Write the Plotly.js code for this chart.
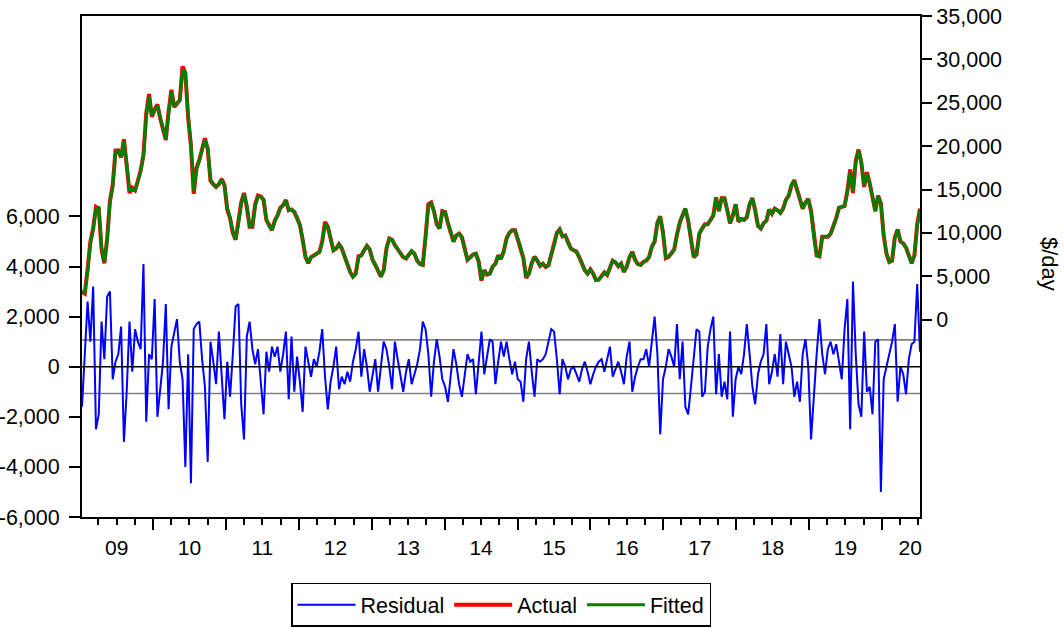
<!DOCTYPE html>
<html><head><meta charset="utf-8">
<script src="https://cdn.plot.ly/plotly-3.0.1.min.js"></script>
<style>html,body{margin:0;padding:0;background:#fff}#chart{width:1064px;height:628px}</style>
</head><body><div id="chart"></div>
<script>
const startDate = '2009-01-09';
const stepDays = 14;

const actual = [
3200,3000,5800,9000,10500,13000,12800,8100,6500,9300,13700,15500,19500,19500,18700,20800,17800,14600,15200,14900,
16000,17200,19000,23800,26000,23400,24200,24800,23200,21800,20700,24000,26500,24500,25000,25300,29200,28400,23300,20000,
14500,17500,18400,19800,20900,19700,16000,15600,15300,15600,16200,15500,12700,11700,10000,9200,11200,13500,14600,13000,
10700,10700,13300,14300,14200,13800,11500,10800,10300,11400,12000,12900,13200,13800,12600,12700,12400,11700,10900,9200,
7230,6500,7200,7400,7650,7800,9000,11270,10700,9300,8000,8200,8700,8200,7300,6300,5500,4950,5300,7300,
7400,8000,8500,8100,6900,6300,5600,4950,5700,8200,9350,9200,8600,8100,7600,7200,7050,7550,7900,7600,
6800,6400,6300,9600,13300,13500,12500,11000,10500,12500,12400,11100,10200,9000,9700,9900,9500,8100,6900,7200,
7500,7600,6700,4500,5700,5200,5300,6100,6450,7400,7000,7900,9400,10000,10300,10300,9300,8400,7100,4800,
5300,6500,7250,6800,6200,6450,6080,6250,7600,8600,10000,10400,9600,9700,8800,8200,8000,7850,7200,6400,
5700,5300,5800,5300,4550,4600,5100,5450,5150,5950,6800,6600,6150,6450,5500,6100,7200,7800,6900,6400,
6300,6650,6800,7200,8400,9000,11200,11900,10000,7100,7230,7650,8100,9800,11200,12040,12800,11400,9000,7200,
7500,9900,10500,11000,11000,11500,12000,14100,12500,14000,14000,12600,11100,12000,13300,11300,11600,11500,11800,13300,
14000,12600,10800,10500,11100,11400,12700,12200,12800,12600,12300,12800,13800,14300,15500,16070,15100,13900,12800,13500,
13900,12500,9400,7400,7300,9540,9540,9540,9900,10700,11700,12900,13000,13100,14800,17300,14600,18300,19600,18100,
15300,17000,15700,13900,12500,14300,13400,9700,7600,6650,6800,9500,10400,9000,8780,8300,7300,6500,7400,11000,
12800
];

const fitted = [
3300,3100,5500,8700,10400,12800,12900,8400,6600,9100,13400,15400,19200,19500,18800,20600,18000,14800,15100,14900,
15900,17100,18800,23300,25700,23600,24100,24700,23300,21900,20800,23700,26200,24600,24900,25300,28800,28500,23600,20300,
14900,17300,18300,19700,20800,19800,16200,15600,15300,15600,16100,15500,12900,11800,10100,9300,11000,13300,14500,13100,
10800,10700,13100,14200,14200,13800,11600,10800,10300,11300,12000,12800,13200,13700,12700,12700,12400,11700,10900,9300,
7300,6500,7200,7400,7650,7800,8900,11100,10700,9300,8000,8200,8700,8200,7300,6300,5500,4950,5300,7200,
7400,8000,8500,8100,6900,6300,5600,4950,5700,8100,9300,9200,8600,8100,7600,7200,7050,7550,7900,7600,
6800,6400,6300,9400,13100,13500,12500,11000,10500,12400,12400,11100,10200,9000,9700,9900,9500,8100,6900,7200,
7500,7600,6700,4600,5700,5200,5300,6100,6450,7400,7000,7900,9300,10000,10300,10300,9300,8400,7100,4900,
5300,6500,7250,6800,6200,6450,6080,6250,7600,8600,10000,10400,9600,9700,8800,8200,8000,7850,7200,6400,
5700,5300,5800,5300,4550,4600,5100,5450,5150,5950,6800,6600,6150,6450,5500,6100,7200,7800,6900,6400,
6300,6650,6800,7200,8400,9000,11100,11900,10000,7200,7230,7650,8100,9800,11200,12040,12800,11400,9000,7200,
7500,9900,10500,11000,11000,11500,12000,14000,12500,14000,14000,12600,11100,12000,13300,11300,11600,11500,11800,13300,
14000,12600,10800,10500,11100,11400,12700,12200,12800,12600,12300,12800,13800,14300,15500,16070,15100,13900,12800,13500,
13900,12500,9500,7400,7300,9540,9540,9540,9900,10700,11700,12900,13000,13100,14700,17100,14800,18100,19500,18200,
15400,16900,15700,13900,12500,14300,13400,9800,7600,6650,6800,9400,10400,9000,8780,8300,7300,6500,7400,10800,
12700
];

const residual = [
-1600,500,2600,1000,3200,-2500,-1900,1800,300,2800,3000,-500,200,500,1600,-3000,-1000,1800,-200,1500,
1000,700,4100,-2200,500,300,2700,-2000,-800,200,2500,-1700,800,1300,1900,200,-500,-4000,500,-4650,
1500,1700,1800,300,-800,-3800,1000,200,-700,1400,-300,-2100,200,-1200,500,2400,2500,-1500,-2900,1200,
1800,700,100,700,-600,-1900,600,-200,800,400,800,-200,500,1400,-1300,1200,-1000,400,-600,-1800,
800,200,-400,300,0,600,1500,-400,-1700,-600,0,800,-900,-400,-700,-200,-600,200,700,1400,
-400,700,0,-1000,-300,300,-1000,0,1000,700,0,-900,1000,300,-300,-1000,-200,300,-700,-300,
100,700,1800,1500,500,-1200,200,1100,400,-500,-800,-1400,-200,700,100,-700,-1200,-300,500,200,
300,-1100,200,1400,-300,400,1100,1000,-700,200,1000,400,1000,300,-300,200,-500,-600,-1400,300,
1000,-200,-1200,300,200,300,500,1000,1500,1400,300,-1100,300,0,-500,-100,0,-300,-600,-100,
200,-200,-700,-300,0,200,300,-200,300,800,-400,-100,200,-200,-700,400,1000,-1000,-400,0,
300,300,700,0,1000,2000,500,-2700,-500,0,700,400,0,1700,-500,1000,-1600,-1900,-800,300,
1500,1400,-1200,-1000,800,1500,2000,-1100,500,-1200,-600,-1300,1400,-2000,-500,0,-300,500,1700,500,
-800,-1500,-300,200,500,1700,-700,-200,500,-400,1300,-700,1000,500,0,-1200,-600,-1400,500,1100,
0,-2900,-1100,500,1900,500,-300,700,1000,500,900,200,-500,1500,2700,-2500,3400,500,-1500,-2000,
1400,-1000,-800,-1900,1000,1100,-5000,-500,0,500,1000,1700,-1400,0,-300,-1100,300,900,1000,3300,
600
];

const residualSE = 1070;

const yearLabels = ['09','10','11','12','13','14','15','16','17','18','19','20'];
const yearLabelDates = ['2009-07-02','2010-07-02','2011-07-02','2012-07-02','2013-07-02','2014-07-02',
                        '2015-07-02','2016-07-02','2017-07-02','2018-07-02','2019-07-02','2020-05-22'];
const yearBoundaryDates = ['2010-01-01','2011-01-01','2012-01-01','2013-01-01','2014-01-01','2015-01-01',
                           '2016-01-01','2017-01-01','2018-01-01','2019-01-01','2020-01-01'];
const leftTicks = [-6000,-4000,-2000,0,2000,4000,6000];
const rightTicks = [0,5000,10000,15000,20000,25000,30000,35000];

// ---- helpers ----
function makeDates(n){
  const out = [];
  const t0 = Date.parse(startDate + 'T00:00:00Z');
  for (let i = 0; i < n; i++) out.push(new Date(t0 + i*stepDays*86400000).toISOString().slice(0,10));
  return out;
}
function fmt(v){
  const s = Math.abs(v).toString().replace(/\B(?=(\d{3})+(?!\d))/g, ',');
  return (v < 0 ? '-' : '') + s;
}
const dates = makeDates(actual.length);
const xRange = [dates[0], dates[dates.length-1]];

const FONT = 'Arial, "Liberation Sans", sans-serif';
const tickFont = {family: FONT, size: 21.5, color: '#000'};

const traces = [
  {x: dates, y: residual, name: 'Residual', type: 'scatter', mode: 'lines',
   xaxis: 'x', yaxis: 'y', line: {color: '#0000ff', width: 2}},
  {x: dates, y: actual, name: 'Actual', type: 'scatter', mode: 'lines',
   xaxis: 'x2', yaxis: 'y2', line: {color: '#ff0000', width: 4}},
  {x: dates, y: fitted, name: 'Fitted', type: 'scatter', mode: 'lines',
   xaxis: 'x2', yaxis: 'y2', line: {color: '#008000', width: 3}}
];

const layout = {
  width: 1064, height: 628,
  margin: {l: 82, r: 144, t: 16, b: 111, pad: 0, autoexpand: false},
  paper_bgcolor: '#fff', plot_bgcolor: '#fff',
  font: tickFont,
  showlegend: true,
  hovermode: false,
  legend: {orientation: 'h', x: 0.5, xanchor: 'center', y: -0.219, yanchor: 'bottom',
           bordercolor: '#000', borderwidth: 1.5, bgcolor: '#fff',
           font: {family: FONT, size: 21.5, color: '#000'}, itemwidth: 58, traceorder: 'normal'},
  // year labels, centred in each year
  xaxis: {type: 'date', range: xRange, tickmode: 'array', tickvals: yearLabelDates, ticktext: yearLabels,
          ticks: 'outside', ticklen: 11, tickcolor: 'rgba(0,0,0,0)',
          showline: true, linecolor: '#000', linewidth: 2, mirror: true,
          showgrid: false, zeroline: false, tickfont: {family: FONT, size: 21, color: '#000'}, anchor: 'y'},
  // year boundary ticks and quarterly minor ticks
  xaxis2: {type: 'date', range: xRange, overlaying: 'x', anchor: 'y2', side: 'bottom',
           tickmode: 'array', tickvals: yearBoundaryDates, ticks: 'outside', ticklen: 12, tickwidth: 2,
           tickcolor: '#000', showticklabels: false, showline: false, showgrid: false, zeroline: false,
           minor: {tickmode: 'linear', tick0: '2009-01-01', dtick: 'M3', ticks: 'outside', ticklen: 7,
                   tickwidth: 2, tickcolor: '#000', showgrid: false}},
  yaxis: {range: [-6000, 14000], tickmode: 'array', tickvals: leftTicks, ticktext: leftTicks.map(fmt),
          ticks: 'outside', ticklen: 11, tickwidth: 2, tickcolor: '#000', ticklabelstandoff: 5,
          showline: true, linewidth: 2, linecolor: '#000', showgrid: false, zeroline: false,
          tickfont: tickFont, anchor: 'x'},
  yaxis2: {range: [-22750, 35000], overlaying: 'y', side: 'right', anchor: 'x2',
           tickmode: 'array', tickvals: rightTicks, ticktext: rightTicks.map(fmt),
           ticks: 'outside', ticklen: 10, tickwidth: 2, tickcolor: '#000',
           showline: true, linewidth: 2, linecolor: '#000', showgrid: false, zeroline: false,
           tickfont: tickFont},
  shapes: [
    {type: 'line', xref: 'paper', x0: 0, x1: 1, yref: 'y', y0: residualSE, y1: residualSE,
     line: {color: '#808080', width: 1.6}, layer: 'between'},
    {type: 'line', xref: 'paper', x0: 0, x1: 1, yref: 'y', y0: -residualSE, y1: -residualSE,
     line: {color: '#808080', width: 1.6}, layer: 'between'},
    {type: 'line', xref: 'paper', x0: 0, x1: 1, yref: 'y', y0: 0, y1: 0,
     line: {color: '#000', width: 1.6}, layer: 'above'}
  ],
  annotations: [
    {text: '$/day', xref: 'paper', yref: 'paper', x: 1.154, y: 0.505, textangle: 90,
     showarrow: false, font: {family: FONT, size: 22, color: '#000'}, xanchor: 'center', yanchor: 'middle'}
  ]
};

Plotly.newPlot('chart', traces, layout, {displayModeBar: false, staticPlot: true});
</script>
</body></html>
